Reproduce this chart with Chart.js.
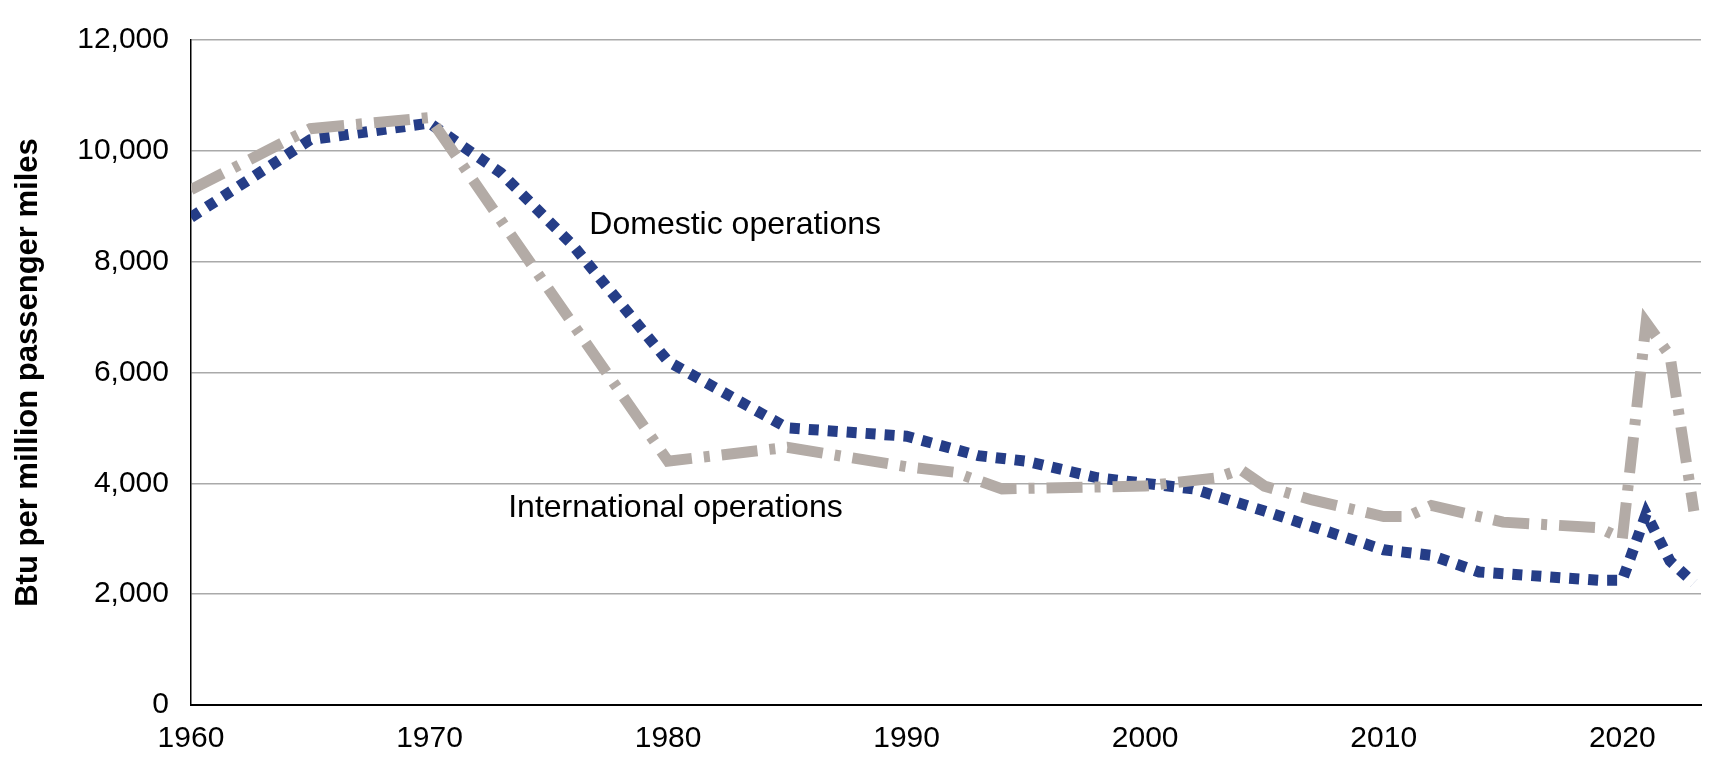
<!DOCTYPE html><html><head><script src="https://cdn.jsdelivr.net/npm/chart.js@4"></script>
<style>body{margin:0;background:#fff}#w{width:1709px;height:765px}</style></head><body><div id="w"><canvas id="c"></canvas></div>
<script>
const domYears=[1960,1965,1970,1973,1976,1980,1985,1990,1993,1995,1998,2000,2002,2005,2010,2012,2014,2019,2020,2021,2022,2023];
const domVals=[8800,10200,10500,9600,8300,6200,5000,4850,4500,4400,4100,4000,3900,3500,2800,2700,2400,2250,2250,3450,2600,2200];
const intYears=[1960,1965,1970,1975,1980,1985,1990,1992,1994,2000,2003,2004,2005,2007,2010,2011,2012,2015,2019,2020,2021,2022,2023];
const intVals=[9300,10400,10600,7500,4400,4650,4300,4200,3900,3950,4100,4250,3950,3700,3400,3400,3600,3300,3200,3000,6900,6300,3500];
const xTicks=[1960,1970,1980,1990,2000,2010,2020];
const F='"Liberation Sans", Arial, sans-serif';
const labels={id:'labels',afterDatasetsDraw(ch){const c=ch.ctx,x=ch.scales.x,y=ch.scales.y;c.save();c.font='32px '+F;c.fillStyle='#000';c.textBaseline='middle';
c.fillText('Domestic operations',x.getPixelForValue(1976.7),y.getPixelForValue(8650));
c.fillText('International operations',x.getPixelForValue(1973.3),y.getPixelForValue(3550));c.restore();}};
new Chart(document.getElementById('c'),{type:'line',data:{datasets:[
{data:intYears.map((v,i)=>({x:v,y:intVals[i]})),borderColor:'#b3aba6',borderWidth:11,borderDash:[36,12,6,12],pointRadius:0,tension:0},
{data:domYears.map((v,i)=>({x:v,y:domVals[i]})),borderColor:'#253d87',borderWidth:11,borderDash:[10,9],pointRadius:0,tension:0}]},
plugins:[labels],
options:{responsive:true,maintainAspectRatio:false,animation:false,layout:{padding:{top:8,right:8,left:6,bottom:4}},
plugins:{legend:{display:false},tooltip:{enabled:false}},
scales:{x:{type:'linear',min:1960,max:2023.3,afterBuildTicks:a=>{a.ticks=xTicks.map(v=>({value:v}))},
grid:{display:false,drawTicks:true,tickLength:12,color:'#000'},border:{color:'#000',width:2},
ticks:{color:'#000',font:{size:30,family:F},maxRotation:0,callback:v=>String(v),padding:4}},
y:{min:0,max:12000,afterBuildTicks:a=>{a.ticks=[0,2000,4000,6000,8000,10000,12000].map(v=>({value:v}))},ticks:{color:'#000',font:{size:30,family:F},callback:v=>v.toLocaleString('en-US'),padding:22},
grid:{color:'#aaa',lineWidth:1.5,drawTicks:false},border:{display:true,color:'#000',width:1.5},
title:{display:true,text:'Btu per million passenger miles',color:'#000',font:{size:31,weight:'bold',family:F},padding:{bottom:8}}}}}});
</script></body></html>
